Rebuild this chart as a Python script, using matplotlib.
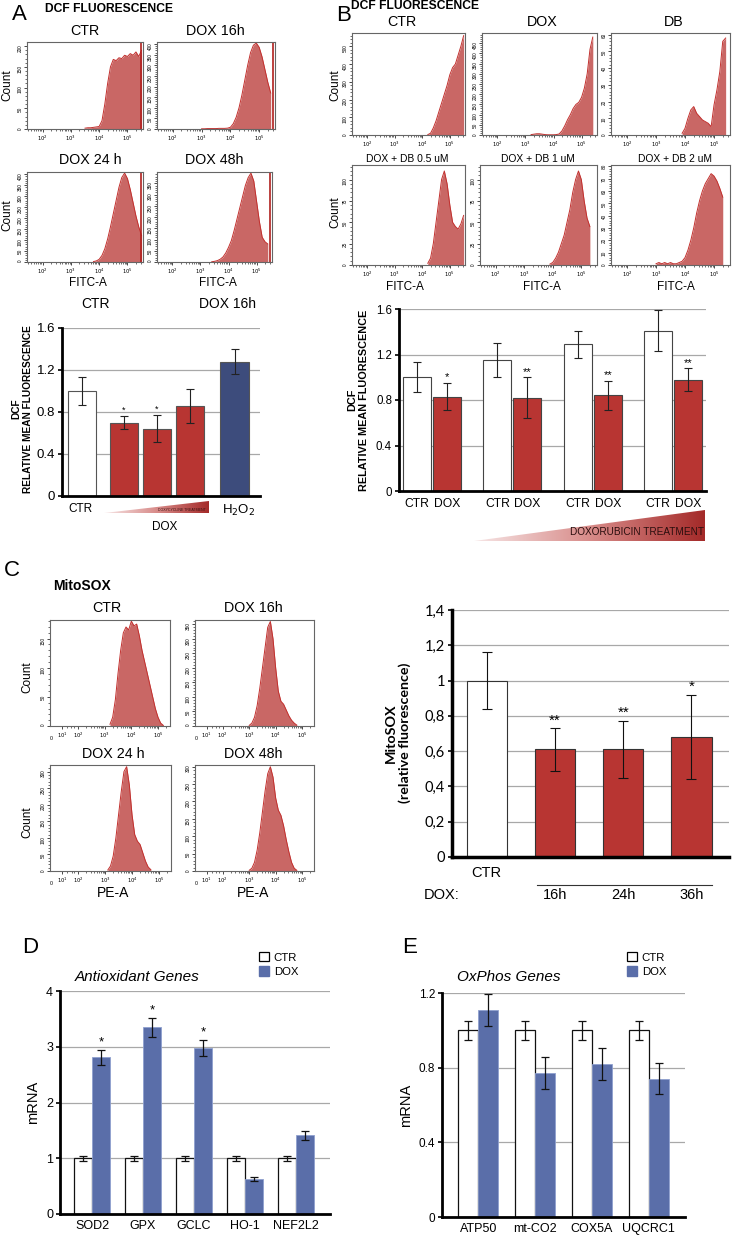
import numpy as np
import matplotlib
matplotlib.use('Agg')
import matplotlib.pyplot as plt
from matplotlib.patches import Polygon, Patch
from matplotlib.colors import LinearSegmentedColormap
from matplotlib.transforms import blended_transform_factory

plt.rcParams['font.family'] = ['Liberation Sans', 'DejaVu Sans']

# ---------------- data ----------------
# flow cytometry histograms: first bin centre (log10 units), counts per 0.1 decade
a_hist_titles = ['CTR', 'DOX 16h', 'DOX 24 h', 'DOX 48h']
a_hist_start = [3.5, 3.0, 3.8, 3.4]
a_hist_counts = [
    [2, 3, 3, 4, 5, 6, 20, 60, 110, 150, 168, 165, 172, 170, 178, 175, 182, 178, 186, 175, 190],
    [1, 1, 2, 2, 2, 2, 3, 3, 3, 4, 8, 25, 55, 100, 160, 230, 300, 360, 395, 405, 385, 340, 280, 220, 170],
    [2, 5, 12, 30, 60, 105, 160, 220, 280, 340, 385, 405, 380, 330, 270, 210, 160, 120],
    [1, 3, 6, 12, 22, 40, 65, 95, 140, 190, 240, 290, 340, 375, 395, 360, 270, 180, 110, 90, 80],
]
a_hist_ymax = [210, 410, 410, 400]
a_hist_ytop = [200, 400, 400, 350]
a_hist_ystep = [50, 50, 50, 50]

b_hist_titles = ['CTR', 'DOX', 'DB', 'DOX + DB 0.5 uM', 'DOX + DB 1 uM', 'DOX + DB 2 uM']
b_hist_start = [4.2, 3.2, 3.9, 4.2, 3.9, 3.0]
b_hist_counts = [
    [2, 10, 40, 80, 130, 180, 230, 280, 340, 380, 400, 450, 500, 560],
    [2, 4, 6, 6, 4, 2, 1, 1, 1, 2, 5, 20, 45, 75, 100, 130, 150, 160, 185, 230, 300, 420, 480],
    [1, 4, 10, 15, 17, 13, 11, 9, 8, 7, 5, 18, 27, 38, 56, 58],
    [2, 8, 25, 50, 75, 100, 110, 95, 70, 50, 45, 42, 48, 58],
    [1, 3, 8, 15, 25, 35, 50, 65, 85, 100, 110, 100, 75, 55, 45],
    [1, 2, 1, 2, 1, 2, 1, 1, 2, 3, 6, 12, 20, 30, 42, 52, 60, 66, 70, 74, 72, 68, 62, 55],
]
b_hist_ymax = [575, 500, 61, 117, 117, 81]
b_hist_ytop = [500, 450, 60, 100, 100, 80]
b_hist_ystep = [100, 50, 10, 25, 25, 10]

c_hist_titles = ['CTR', 'DOX 16h', 'DOX 24 h', 'DOX 48h']
c_hist_start = [3.2, 3.0, 3.1, 3.0]
c_hist_counts = [
    [3, 15, 45, 90, 130, 160, 170, 165, 180, 172, 175, 155, 130, 110, 90, 70, 50, 30, 15, 5, 1],
    [2, 10, 30, 70, 130, 200, 270, 340, 360, 300, 200, 120, 85, 75, 55, 35, 20, 10, 3],
    [3, 15, 45, 100, 170, 240, 300, 315, 260, 170, 110, 90, 80, 55, 30, 12, 4],
    [2, 8, 25, 60, 110, 170, 230, 280, 300, 270, 210, 175, 160, 130, 90, 55, 25, 8, 2],
]
c_hist_ymax = [182, 365, 320, 305]
c_hist_ytop = [150, 350, 300, 300]
c_hist_ystep = [50, 50, 50, 50]

# bar charts
a_bar_vals = [1.00, 0.70, 0.64, 0.86, 1.28]
a_bar_err = [0.13, 0.063, 0.13, 0.16, 0.12]
a_bar_stars = ['', '*', '*', '', '']

b_ctr = [1.00, 1.15, 1.29, 1.41]
b_ctr_err = [0.13, 0.15, 0.12, 0.18]
b_dox = [0.83, 0.82, 0.84, 0.98]
b_dox_err = [0.12, 0.18, 0.13, 0.10]
b_stars = ['*', '**', '**', '**']

c_labels = ['CTR', '16h', '24h', '36h']
c_vals = [1.00, 0.61, 0.61, 0.68]
c_err = [0.16, 0.12, 0.16, 0.24]
c_stars = ['', '**', '**', '*']

d_genes = ['SOD2', 'GPX', 'GCLC', 'HO-1', 'NEF2L2']
d_ctr = [1.0, 1.0, 1.0, 1.0, 1.0]
d_ctr_err = [0.045, 0.045, 0.045, 0.045, 0.045]
d_dox = [2.81, 3.35, 2.98, 0.62, 1.41]
d_dox_err = [0.14, 0.17, 0.15, 0.035, 0.075]
d_stars = ['*', '*', '*', '', '']

e_genes = ['ATP50', 'mt-CO2', 'COX5A', 'UQCRC1']
e_ctr = [1.0, 1.0, 1.0, 1.0]
e_ctr_err = [0.05, 0.05, 0.05, 0.05]
e_dox = [1.11, 0.77, 0.82, 0.74]
e_dox_err = [0.087, 0.085, 0.085, 0.083]

# colours
HIST_FILL = '#C96765'
HIST_EDGE = '#C2302E'
RED = '#B83532'
NAVY = '#3D4C7C'
BLUE = '#5A6EA9'
GRID = '#A8A8A8'

W, H = 733, 1237
fig = plt.figure(figsize=(W / 100, H / 100), dpi=100)


def box(x0, y0, x1, y1):
    return fig.add_axes([x0 / W, 1 - y1 / H, (x1 - x0) / W, (y1 - y0) / H])


def ftext(x, y, s, **kw):
    fig.text(x / W, 1 - y / H, s, **kw)


def flow_hist(ax, start, counts, ymax, ytop, ystep, biexp=False, gate=False):
    x = np.round(start + 0.1 * np.arange(len(counts)), 3)
    ax.fill_between(x, counts, color=HIST_FILL, lw=0)
    ax.plot(x, counts, color=HIST_EDGE, lw=0.7)
    if biexp:
        ax.set_xlim(0.95, 5.45)
        ax.set_xticks([1.4, 2, 3, 4, 5])
        ax.set_xticklabels(['$10^1$', '$10^2$', '$10^3$', '$10^4$', '$10^5$'])
        minors = [np.log10(k) + d for d in range(2, 6) for k in range(2, 10)]
        minors += [1.6, 1.75, 1.85]
        trans = blended_transform_factory(ax.transData, ax.transAxes)
        ax.text(0.98, -0.09, '0', fontsize=3.8, ha='center', va='top', transform=trans)
    else:
        ax.set_xlim(1.45, 5.55)
        ax.set_xticks([2, 3, 4, 5])
        ax.set_xticklabels(['$10^2$', '$10^3$', '$10^4$', '$10^5$'])
        minors = [np.log10(k) + d for d in range(1, 6) for k in range(2, 10)]
    minors = [m for m in minors if ax.get_xlim()[0] < m < ax.get_xlim()[1]]
    ax.set_xticks(minors, minor=True)
    ax.set_ylim(0, ymax)
    ax.set_yticks(np.arange(0, ytop + 1, ystep))
    ax.set_yticks(np.arange(0, ymax, ystep / 5), minor=True)
    ax.tick_params(axis='both', which='major', labelsize=3.8, length=2.2, width=0.5, pad=1)
    ax.tick_params(axis='both', which='minor', length=1.2, width=0.4)
    ax.tick_params(axis='y', labelrotation=90, labelsize=3.4)
    for sp in ax.spines.values():
        sp.set_color('#666666')
        sp.set_linewidth(0.8)
    if gate:
        ax.axvline(ax.get_xlim()[1] - 0.06, color='#B0201E', lw=1.2)


def bar_axes(ax, ymax, ystep, spine_w=2.0):
    ax.set_ylim(0, ymax)
    ticks = np.round(np.arange(0, ymax + 1e-9, ystep), 2)
    ax.set_yticks(ticks)
    for t in ticks[1:]:
        ax.axhline(t, color=GRID, lw=0.9, zorder=0)
    for s in ['top', 'right']:
        ax.spines[s].set_visible(False)
    ax.spines['left'].set_linewidth(spine_w)
    ax.spines['bottom'].set_linewidth(spine_w)
    ax.tick_params(axis='y', length=3, width=1.2, pad=2)
    ax.tick_params(axis='x', length=0)
    ax.set_facecolor('none')
    return ticks


# ---------------- panel A ----------------
ftext(12, 20, 'A', fontsize=16)
ftext(45, 12, 'DCF FLUORESCENCE', fontsize=8.7, fontweight='bold')
a_boxes = [(27, 42, 143, 129), (157, 42, 275, 129), (27, 172, 143, 262), (157, 172, 272, 262)]
a_title_xy = [(85, 31), (215, 31), (90, 160), (214, 160)]
for i in range(4):
    ax = box(*a_boxes[i])
    flow_hist(ax, a_hist_start[i], a_hist_counts[i], a_hist_ymax[i], a_hist_ytop[i],
              a_hist_ystep[i], gate=True)
    ftext(*a_title_xy[i], a_hist_titles[i], fontsize=10.3, ha='center', va='center')
ftext(7, 85, 'Count', fontsize=8.5, rotation=90, ha='center', va='center')
ftext(7, 215, 'Count', fontsize=8.5, rotation=90, ha='center', va='center')
ftext(88, 283, 'FITC-A', fontsize=8.5, ha='center', va='center')
ftext(218, 283, 'FITC-A', fontsize=8.5, ha='center', va='center')
ftext(95, 304, 'CTR', fontsize=10, ha='center', va='center')
ftext(228, 304, 'DOX 16h', fontsize=10, ha='center', va='center')

ax = box(62, 328, 260, 496)
bar_axes(ax, 1.6, 0.4)
ax.set_yticklabels(['0', '0.4', '0.8', '1.2', '1.6'], fontsize=9.5)
a_x = np.array([0, 1.27, 2.27, 3.27, 4.62])
a_cols = ['white', RED, RED, RED, NAVY]
ax.bar(a_x, a_bar_vals, width=0.87, color=a_cols, edgecolor='#555555', lw=0.8, zorder=2)
ax.errorbar(a_x, a_bar_vals, yerr=a_bar_err, fmt='none', ecolor='#222222',
            elinewidth=0.8, capsize=3, capthick=0.8, zorder=3)
for x, v, e, s in zip(a_x, a_bar_vals, a_bar_err, a_bar_stars):
    if s:
        ax.text(x, v + e + 0.01, s, ha='center', va='bottom', fontsize=6.5)
ax.set_xlim(-0.61, 5.39)
ax.set_xticks([])
ftext(22, 409, 'DCF\nRELATIVE MEAN FLUORESCENCE', fontsize=7.3, fontweight='bold',
      rotation=90, ha='center', va='center', multialignment='center')
ftext(80, 509, 'CTR', fontsize=8.5, ha='center', va='center')
ftext(239, 510, 'H$_2$O$_2$', fontsize=9.5, ha='center', va='center')
ftext(165, 527, 'DOX', fontsize=8.5, ha='center', va='center')

# ---------------- panel B ----------------
ftext(336, 21, 'B', fontsize=16)
ftext(351, 9, 'DCF FLUORESCENCE', fontsize=8.7, fontweight='bold')
b_boxes = [(352, 33, 465, 135), (482, 33, 597, 135), (611, 33, 730, 135),
           (352, 165, 465, 265), (480, 165, 597, 265), (611, 165, 730, 265)]
b_title_xy = [(402, 22), (542, 22), (674, 22), (407, 159), (538, 159), (675, 159)]
for i in range(6):
    ax = box(*b_boxes[i])
    flow_hist(ax, b_hist_start[i], b_hist_counts[i], b_hist_ymax[i], b_hist_ytop[i],
              b_hist_ystep[i])
    ftext(*b_title_xy[i], b_hist_titles[i], fontsize=10.3 if i < 3 else 7.4,
          ha='center', va='center')
ftext(335, 85, 'Count', fontsize=8.5, rotation=90, ha='center', va='center')
ftext(335, 212, 'Count', fontsize=8.5, rotation=90, ha='center', va='center')
for x in [405, 542, 676]:
    ftext(x, 287, 'FITC-A', fontsize=8.5, ha='center', va='center')

ax = box(399, 309, 706, 491)
bar_axes(ax, 1.6, 0.4)
ax.set_yticklabels(['0', '0.4', '0.8', '1.2', '1.6'], fontsize=8.3)
g = np.arange(len(b_ctr)) * 2.68
ax.bar(g, b_ctr, width=0.93, color='white', edgecolor='#444444', lw=0.8, zorder=2)
ax.bar(g + 1, b_dox, width=0.93, color=RED, edgecolor='#444444', lw=0.8, zorder=2)
ax.errorbar(g, b_ctr, yerr=b_ctr_err, fmt='none', ecolor='#222222', elinewidth=0.8,
            capsize=3, capthick=0.8, zorder=3)
ax.errorbar(g + 1, b_dox, yerr=b_dox_err, fmt='none', ecolor='#222222', elinewidth=0.8,
            capsize=3, capthick=0.8, zorder=3)
for x, v, e, s in zip(g + 1, b_dox, b_dox_err, b_stars):
    ax.text(x, v + e + 0.005, s, ha='center', va='bottom', fontsize=8)
ax.set_xlim(-0.6, 9.63)
ax.set_xticks(np.concatenate([g, g + 1]))
ax.set_xticklabels(['CTR'] * len(g) + ['DOX'] * len(g), fontsize=8.7)
ax.tick_params(axis='x', pad=5)
ftext(358, 400, 'DCF\nRELATIVE MEAN FLUORESCENCE', fontsize=7.8, fontweight='bold',
      rotation=90, ha='center', va='center', multialignment='center')

# ---------------- panel C ----------------
ftext(4, 576, 'C', fontsize=16)
ftext(53, 590, 'MitoSOX', fontsize=10, fontweight='bold')
c_boxes = [(50, 620, 170, 726), (195, 620, 314, 726), (50, 765, 171, 871), (195, 765, 314, 871)]
c_title_xy = [(107, 608), (253, 608), (113, 754), (253, 754)]
for i in range(4):
    ax = box(*c_boxes[i])
    flow_hist(ax, c_hist_start[i], c_hist_counts[i], c_hist_ymax[i], c_hist_ytop[i],
              c_hist_ystep[i], biexp=True)
    ftext(*c_title_xy[i], c_hist_titles[i], fontsize=10.3, ha='center', va='center')
ftext(27, 677, 'Count', fontsize=8.5, rotation=90, ha='center', va='center')
ftext(27, 822, 'Count', fontsize=8.5, rotation=90, ha='center', va='center')
ftext(113, 893, 'PE-A', fontsize=10, ha='center', va='center')
ftext(253, 893, 'PE-A', fontsize=10, ha='center', va='center')

ax = box(452, 610, 729, 857)
ticks = bar_axes(ax, 1.4, 0.2, spine_w=2.5)
ax.set_yticklabels([f'{t:g}'.replace('.', ',') for t in ticks], fontsize=10.5, family='Lato')
c_x = np.arange(len(c_vals))
ax.bar(c_x, c_vals, width=0.59, color=['white', RED, RED, RED], edgecolor='#333333',
       lw=0.8, zorder=2)
ax.errorbar(c_x, c_vals, yerr=c_err, fmt='none', ecolor='#111111', elinewidth=0.8,
            capsize=3.5, capthick=0.8, zorder=3)
for x, v, e, s in zip(c_x, c_vals, c_err, c_stars):
    if s:
        ax.text(x, v + e + 0.005, s, ha='center', va='bottom', fontsize=11)
ax.set_xlim(-0.51, 3.55)
ax.set_xticks([])
trans = blended_transform_factory(ax.transData, ax.transAxes)
ax.text(c_x[0], -0.065, c_labels[0], fontsize=10.5, ha='center', va='center', transform=trans)
for x, lab in zip(c_x[1:], c_labels[1:]):
    ax.text(x, -0.155, lab, fontsize=10.5, ha='center', va='center', transform=trans)
ax.plot([c_x[1] - 0.27, c_x[-1] + 0.3], [-0.113, -0.113], color='#333333', lw=0.8,
        transform=trans, clip_on=False)
ftext(442, 895, 'DOX:', fontsize=10.5, ha='center', va='center')
ftext(398, 733, 'MitoSOX\n(relative fluorescence)', fontsize=10.3, fontweight='bold',
      family='Lato', rotation=90, ha='center', va='center', multialignment='center')

# ---------------- panels D and E ----------------
def gene_panel(ax, genes, ctr, ctr_err, dox, dox_err, stars, ymax, ystep, labels):
    bar_axes(ax, ymax, ystep)
    ax.set_yticklabels(labels, fontsize=9)
    x = np.arange(len(genes))
    ax.bar(x - 0.175, ctr, width=0.35, color='white', edgecolor='#111111', lw=0.9, zorder=2)
    ax.bar(x + 0.175, dox, width=0.35, color=BLUE, edgecolor='#8FA0CF', lw=0.6, zorder=2)
    ax.errorbar(x - 0.175, ctr, yerr=ctr_err, fmt='none', ecolor='#111111',
                elinewidth=0.9, capsize=3, capthick=0.9, zorder=3)
    ax.errorbar(x + 0.175, dox, yerr=dox_err, fmt='none', ecolor='#111111',
                elinewidth=0.9, capsize=3, capthick=0.9, zorder=3)
    for xi, v, e, s in zip(x + 0.175, dox, dox_err, stars):
        if s:
            ax.text(xi, v + e + ymax * 0.005, s, ha='center', va='bottom', fontsize=9.5)
    ax.set_xticks(x)
    ax.set_xticklabels(genes, fontsize=9)
    ax.tick_params(axis='x', pad=4)
    ax.set_ylabel('mRNA', fontsize=10.5, labelpad=4)
    return x


ftext(22, 953, 'D', fontsize=16)
ax = box(60, 991, 330, 1214)
gene_panel(ax, d_genes, d_ctr, d_ctr_err, d_dox, d_dox_err, d_stars, 4, 1,
           ['0', '1', '2', '3', '4'])
ax.set_xlim(-0.63, 4.67)
ftext(137, 977, 'Antioxidant Genes', fontsize=11, style='italic', ha='center', va='center')

ftext(402, 953, 'E', fontsize=16)
ax = box(442, 993, 685, 1217)
gene_panel(ax, e_genes, e_ctr, e_ctr_err, e_dox, e_dox_err, [''] * 4, 1.2, 0.4,
           ['0', '0.4', '0.8', '1.2'])
ax.set_xlim(-0.64, 3.64)
ax.tick_params(axis='y', labelsize=8.5)
ftext(509, 977, 'OxPhos Genes', fontsize=11, style='italic', ha='center', va='center')

handles = [Patch(facecolor='white', edgecolor='black', lw=0.9, label='CTR'),
           Patch(facecolor=BLUE, edgecolor=BLUE, label='DOX')]
for lx in [259, 627]:
    fig.legend(handles=handles, loc='upper left', bbox_to_anchor=(lx / W, 1 - 952 / H),
               frameon=False, fontsize=8.2, handlelength=0.9, handleheight=0.9,
               handletextpad=0.4, labelspacing=0.3, borderaxespad=0, borderpad=0)

# ---------------- treatment wedges ----------------
ov = fig.add_axes([0, 0, 1, 1])
ov.set_facecolor('none')
cmap = LinearSegmentedColormap.from_list('wedge', ['#F7E6E6', '#D88C8A', '#A42A29'])
grad = np.linspace(0, 1, 256).reshape(1, -1)
for (x0, y0, x1, y1) in [(104, 501, 209, 513), (474, 510, 705, 541)]:
    im = ov.imshow(grad, extent=(x0, x1, y1, y0), cmap=cmap, aspect='auto')
    tri = Polygon([(x0, y1), (x1, y0), (x1, y1)], closed=True, facecolor='none',
                  edgecolor='none', transform=ov.transData)
    ov.add_patch(tri)
    im.set_clip_path(tri)
ov.set_xlim(0, W)
ov.set_ylim(H, 0)
ov.axis('off')
ov.text(182, 510, 'DOXYCYCLINE TREATMENT', fontsize=2.6, ha='center', va='center',
        color='#3A1212')
ov.text(637, 532, 'DOXORUBICIN TREATMENT', fontsize=7.2, ha='center', va='center',
        color='#2A0E0E')

fig.savefig('out.png', dpi=100)
